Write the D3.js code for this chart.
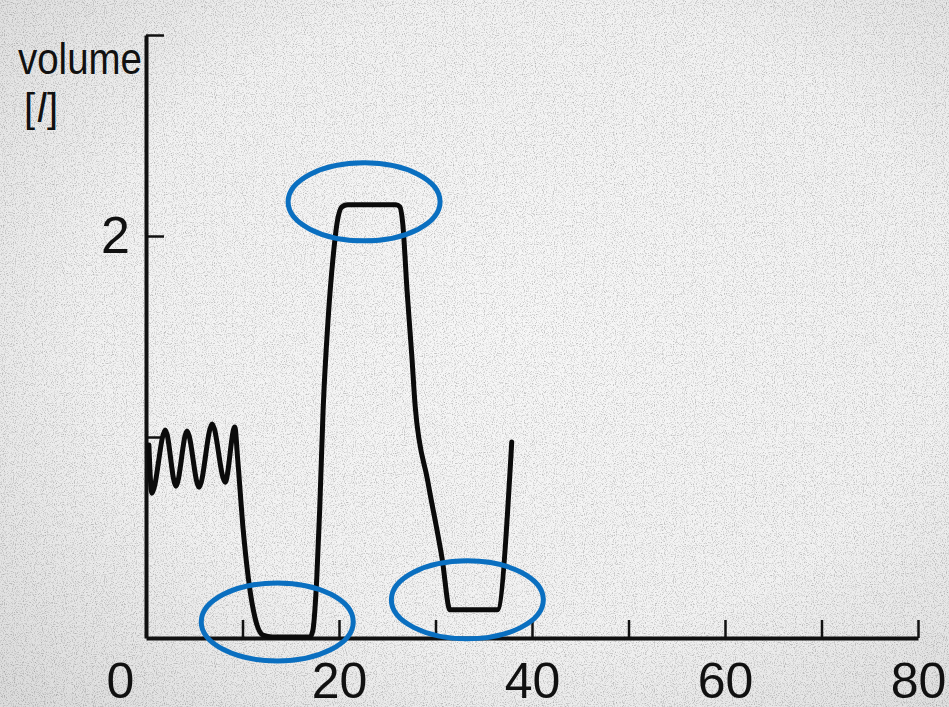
<!DOCTYPE html>
<html lang="en">
<head>
<meta charset="UTF-8">
<title>Volume trace</title>
<script src="https://d3js.org/d3.v7.min.js"></script>
<style>
  body { margin: 0; background: #e8e8e8; }
  .axis text { font-family: "Liberation Sans", "DejaVu Sans", sans-serif; fill: #111; }
</style>
</head>
<body>
<div id="chart"></div>
<script>
// time (s) and volume (l)
var timeSec = [0.3, 0.6, 2.0, 3.1, 4.25, 5.5, 6.85, 8.2, 9.2, 9.5, 10.05, 10.6, 11.3, 12.1, 13.1,
               17.0, 17.3, 17.7, 18.0, 18.35, 18.85, 19.4, 19.8, 20.3, 20.9,
               25.9, 26.3, 26.6, 27.05, 27.55, 27.9, 29.2, 30.7, 31.5, 36.4, 37.9];
var volume  = [0.96, 0.72, 1.035, 0.755, 1.03, 0.75, 1.065, 0.775, 1.05, 0.89, 0.55, 0.3, 0.1, 0.015, 0.005,
               0.005, 0.04, 0.3, 0.64, 1.13, 1.57, 1.9, 2.065, 2.145, 2.155,
               2.155, 2.145, 2.065, 1.73, 1.4, 1.15, 0.78, 0.39, 0.14, 0.14, 0.975];

var xTicks = [0, 10, 20, 30, 40, 50, 60, 70, 80];
var xLabels = [0, 20, 40, 60, 80];
var yTicks = [1, 2, 3];
var yLabels = [2];

// highlighted regions: centre (time, volume)
var marks = [
  {t: 22.6, v: 2.17},
  {t: 13.6, v: 0.08},
  {t: 33.3, v: 0.19}
];

var W = 949, H = 707;
var margin = {top: 35, right: 31, bottom: 69, left: 146};
var width = W - margin.left - margin.right,
    height = H - margin.top - margin.bottom;

var svg = d3.select("#chart").append("svg")
    .attr("width", W)
    .attr("height", H);

// paper look
var defs = svg.append("defs");
var grad = defs.append("radialGradient").attr("id", "paper")
    .attr("cx", "55%").attr("cy", "45%").attr("r", "75%");
grad.append("stop").attr("offset", "0%").attr("stop-color", "#f7f7f7");
grad.append("stop").attr("offset", "60%").attr("stop-color", "#f2f2f2");
grad.append("stop").attr("offset", "100%").attr("stop-color", "#dcdcdc");

var noise = defs.append("filter").attr("id", "speckle")
    .attr("x", 0).attr("y", 0).attr("width", "100%").attr("height", "100%");
noise.append("feTurbulence").attr("type", "fractalNoise")
    .attr("baseFrequency", 0.9).attr("numOctaves", 2).attr("seed", 3);
noise.append("feColorMatrix").attr("type", "matrix")
    .attr("values", "0 0 0 0 0  0 0 0 0 0  0 0 0 0 0  -2.6 0 0 0 1.35");

svg.append("rect").attr("width", W).attr("height", H).attr("fill", "url(#paper)");
svg.append("rect").attr("width", W).attr("height", H)
    .attr("filter", "url(#speckle)").attr("opacity", 0.25);

var g = svg.append("g")
    .attr("transform", "translate(" + margin.left + "," + margin.top + ")");

var x = d3.scaleLinear().domain([0, 80]).range([0, width]);
var y = d3.scaleLinear().domain([0, 3]).range([height, 0]);

// x axis, ticks pointing up
var xAxis = g.append("g")
    .attr("class", "axis")
    .attr("transform", "translate(0," + height + ")")
    .call(d3.axisBottom(x)
      .tickValues(xTicks)
      .tickSize(-18)
      .tickSizeOuter(0)
      .tickPadding(24)
      .tickFormat(function(d) { return xLabels.indexOf(d) >= 0 ? d : ""; }));
xAxis.selectAll("text").attr("font-size", 50);
xAxis.selectAll(".tick").filter(function(d) { return d === 0; })
    .select("text").attr("dx", -26);

// y axis, ticks pointing in
var yAxis = g.append("g")
    .attr("class", "axis")
    .call(d3.axisLeft(y)
      .tickValues(yTicks)
      .tickSize(-18)
      .tickSizeOuter(0)
      .tickPadding(16)
      .tickFormat(function(d) { return yLabels.indexOf(d) >= 0 ? d : ""; }));
yAxis.selectAll("text").attr("font-size", 52);

g.selectAll(".axis .domain").attr("stroke", "#111").attr("stroke-width", 4);
g.selectAll(".axis .tick line").attr("stroke", "#111").attr("stroke-width", 2.5);

// axis title, squeezed to the narrow lettering of the original
var title = svg.append("g")
    .attr("font-family", "'Liberation Sans', sans-serif")
    .attr("fill", "#111");
title.append("text").attr("x", 18).attr("y", 74)
    .attr("font-size", 45)
    .attr("textLength", 124).attr("lengthAdjust", "spacingAndGlyphs")
    .text("volume");
var unit = title.append("g").attr("font-size", 40);
unit.append("text").attr("x", 24).attr("y", 122).text("[");
unit.append("text").attr("x", 37).attr("y", 122)
    .attr("font-style", "italic").text("l");
unit.append("text").attr("x", 47).attr("y", 122).text("]");

// trace
var pts = timeSec.map(function(t, i) { return [t, volume[i]]; });
var line = d3.line()
    .x(function(d) { return x(d[0]); })
    .y(function(d) { return y(d[1]); })
    .curve(d3.curveMonotoneX);

g.append("path")
    .datum(pts)
    .attr("fill", "none")
    .attr("stroke", "#0b0b0b")
    .attr("stroke-width", 5)
    .attr("stroke-linejoin", "round")
    .attr("stroke-linecap", "round")
    .attr("d", line);

// blue rings
g.selectAll("ellipse")
    .data(marks)
    .enter()
    .append("ellipse")
      .attr("cx", function(d) { return x(d.t); })
      .attr("cy", function(d) { return y(d.v); })
      .attr("rx", 76)
      .attr("ry", 39)
      .attr("fill", "none")
      .attr("stroke", "#0a6fc0")
      .attr("stroke-width", 5);
</script>
</body>
</html>
